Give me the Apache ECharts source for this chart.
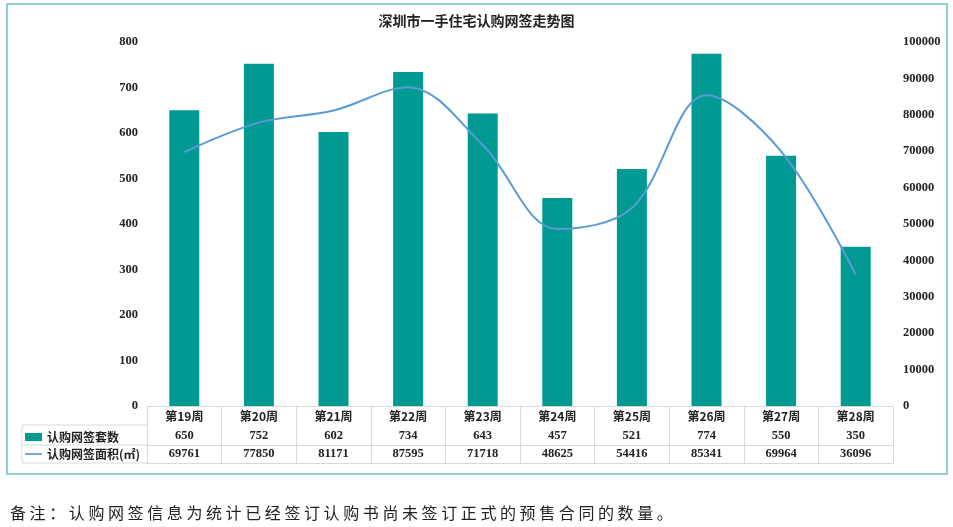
<!DOCTYPE html>
<html>
<head>
<meta charset="utf-8">
<script src="https://cdn.jsdelivr.net/npm/echarts@6/dist/echarts.min.js"></script>
<style>
  html, body { margin: 0; padding: 0; background: #fff; }
  #main { width: 953px; height: 527px; }
  #note {
    position: absolute; left: 10px; top: 500px;
    font-family: "Noto Sans CJK SC", sans-serif; font-size: 16px;
    letter-spacing: 3.6px; color: #222;
  }
</style>
</head>
<body>
<div id="main"></div>
<div id="note">备注：认购网签信息为统计已经签订认购书尚未签订正式的预售合同的数量。</div>
<script>
// 周次
var weeks = ['第19周', '第20周', '第21周', '第22周', '第23周', '第24周', '第25周', '第26周', '第27周', '第28周'];
// 认购网签套数
var counts = [650, 752, 602, 734, 643, 457, 521, 774, 550, 350];
// 认购网签面积(㎡)
var areas = [69761, 77850, 81171, 87595, 71718, 48625, 54416, 85341, 69964, 36096];

var numFont = '"Liberation Serif", "Noto Sans CJK SC", serif';
var gridLine = '#d9d9d9';

var myChart = echarts.init(document.getElementById('main'));

var option = {
  animation: false,
  title: {
    text: '深圳市一手住宅认购网签走势图',
    left: 'center',
    top: 9,
    textStyle: { fontSize: 14, fontWeight: 'bold', color: '#222', fontFamily: '"Noto Sans CJK SC", serif' }
  },
  legend: {
    orient: 'vertical',
    left: 20,
    top: 426,
    itemGap: 5,
    itemWidth: 17,
    itemHeight: 8,
    textStyle: { fontSize: 12, fontWeight: 'bold', color: '#222', fontFamily: '"Noto Sans CJK SC", serif' },
    data: [
      { name: '认购网签套数', icon: 'rect' },
      { name: '认购网签面积(㎡)', icon: 'path://M0,0 L20,0 L20,2 L0,2 Z' }
    ]
  },
  grid: { left: 147, right: 60, top: 42, bottom: 121 },
  xAxis: [
    {
      type: 'category',
      data: weeks,
      position: 'bottom',
      axisLine: { show: true, lineStyle: { color: gridLine } },
      axisTick: { show: true, length: 57, lineStyle: { color: gridLine } },
      axisLabel: { margin: 4, fontSize: 12, fontWeight: 'bold', color: '#222', fontFamily: '"Noto Sans CJK SC", serif' }
    },
    {
      type: 'category',
      data: weeks,
      position: 'bottom',
      offset: 19,
      axisLine: { show: true, lineStyle: { color: gridLine } },
      axisTick: { show: false },
      axisLabel: {
        margin: 5, fontSize: 12.5, fontWeight: 'bold', color: '#222', fontFamily: numFont,
        formatter: function (v, i) { return String(counts[i]); }
      }
    },
    {
      type: 'category',
      data: weeks,
      position: 'bottom',
      offset: 39,
      axisLine: { show: true, lineStyle: { color: gridLine } },
      axisTick: { show: false },
      axisLabel: {
        margin: 3, fontSize: 12.5, fontWeight: 'bold', color: '#222', fontFamily: numFont,
        formatter: function (v, i) { return String(areas[i]); }
      }
    },
    {
      type: 'category',
      data: weeks,
      position: 'bottom',
      offset: 57,
      axisLine: { show: true, lineStyle: { color: gridLine } },
      axisTick: { show: false },
      axisLabel: { show: false }
    }
  ],
  yAxis: [
    {
      type: 'value',
      min: 0, max: 800, interval: 100,
      axisLine: { show: false },
      axisTick: { show: false },
      splitLine: { show: false },
      axisLabel: { margin: 9, fontSize: 12.5, fontWeight: 'bold', color: '#222', fontFamily: numFont }
    },
    {
      type: 'value',
      min: 0, max: 100000, interval: 10000,
      position: 'right',
      axisLine: { show: false },
      axisTick: { show: false },
      splitLine: { show: false },
      axisLabel: {
        margin: 10, fontSize: 12.5, fontWeight: 'bold', color: '#222', fontFamily: numFont,
        formatter: function (v) { return String(v); }
      }
    }
  ],
  series: [
    {
      name: '认购网签套数',
      type: 'bar',
      barWidth: 30,
      itemStyle: { color: '#009a92' },
      data: counts
    },
    {
      name: '认购网签面积(㎡)',
      type: 'line',
      yAxisIndex: 1,
      smooth: 0.35,
      symbol: 'none',
      lineStyle: { color: '#5b9bd5', width: 2 },
      itemStyle: { color: '#5b9bd5' },
      data: areas
    }
  ],
  graphic: [
    // 外边框
    { type: 'rect', shape: { x: 7, y: 4, width: 940, height: 470 }, style: { fill: 'none', stroke: '#6cbfc4', lineWidth: 1.5 }, silent: true },
    // 图例列表格线
    { type: 'polyline', shape: { points: [[147, 425], [22, 425], [22, 463], [147, 463]] }, style: { fill: 'none', stroke: gridLine, lineWidth: 1 }, silent: true },
    { type: 'line', shape: { x1: 22, y1: 445, x2: 147, y2: 445 }, style: { stroke: gridLine, lineWidth: 1 }, silent: true }
  ]
};

myChart.setOption(option);
window.addEventListener('resize', function () {
  myChart.resize();
});
</script>
</body>
</html>
